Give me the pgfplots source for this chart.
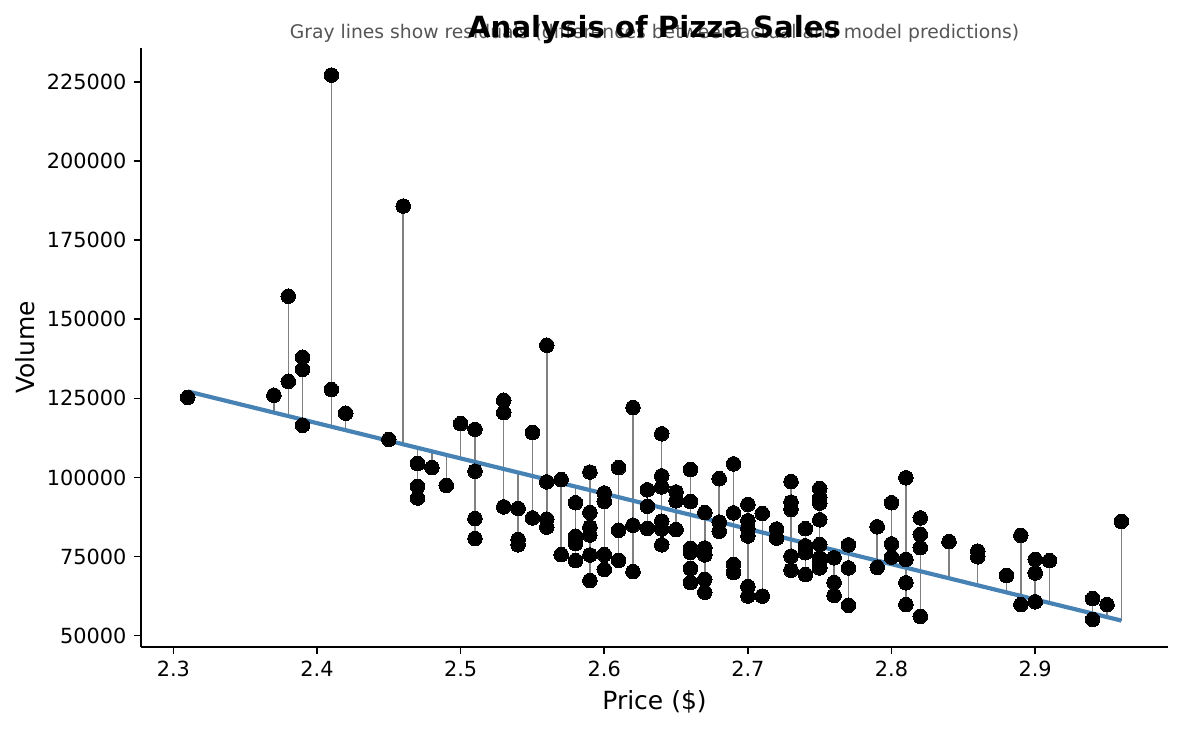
\documentclass[border=0pt]{standalone}
\usepackage{pgfplots}
\pgfplotsset{compat=1.18}
\usepackage{pgfplotstable}
\usepackage{fontspec}
\setmainfont{DejaVu Sans}

\definecolor{steelblue}{HTML}{4682B4}
\definecolor{residgray}{HTML}{808080}
\definecolor{subgray}{HTML}{555555}

% fitted model: volume = a - b * price
\newcommand\fitA{384676}
\newcommand\fitB{111461.5}

\pgfplotstableread{
price volume
2.31 125300
2.37 126000
2.38 157300
2.38 130400
2.39 138000
2.39 134200
2.39 116500
2.41 227200
2.41 127800
2.42 120300
2.45 112000
2.46 185800
2.47 104400
2.47 97200
2.47 93500
2.48 103100
2.49 97500
2.50 117000
2.51 115200
2.51 102000
2.51 87000
2.51 80700
2.53 124400
2.53 120500
2.53 90700
2.54 90200
2.54 80400
2.54 78700
2.55 114200
2.55 87200
2.56 141800
2.56 98600
2.56 86800
2.56 84300
2.57 99300
2.57 75600
2.58 92000
2.58 81400
2.58 79100
2.58 73700
2.59 101700
2.59 88900
2.59 84300
2.59 81800
2.59 75500
2.59 67400
2.60 95100
2.60 92400
2.60 75600
2.60 70900
2.61 103100
2.61 83300
2.61 73800
2.62 122100
2.62 84900
2.62 70200
2.63 96100
2.63 90900
2.63 83900
2.64 113800
2.64 100500
2.64 97000
2.64 86200
2.64 83700
2.64 78700
2.65 95400
2.65 92600
2.65 83500
2.66 102500
2.66 92400
2.66 77600
2.66 76300
2.66 71200
2.66 66800
2.67 88900
2.67 77700
2.67 75500
2.67 67800
2.67 63700
2.68 99600
2.68 85900
2.68 83000
2.69 104300
2.69 88800
2.69 72500
2.69 69900
2.70 91500
2.70 86300
2.70 83800
2.70 81500
2.70 65500
2.70 62500
2.71 88600
2.71 62500
2.72 83700
2.72 80800
2.73 98700
2.73 92200
2.73 89900
2.73 75100
2.73 70700
2.74 83800
2.74 78400
2.74 76200
2.74 69300
2.75 96500
2.75 93600
2.75 91900
2.75 86600
2.75 78800
2.75 74600
2.75 73000
2.75 71400
2.76 74600
2.76 66800
2.76 62700
2.77 78700
2.77 71400
2.77 59600
2.79 84400
2.79 71600
2.80 92000
2.80 79000
2.80 74800
2.81 99900
2.81 74100
2.81 66700
2.81 59800
2.82 87200
2.82 82000
2.82 77800
2.82 56100
2.84 79700
2.86 76700
2.86 74900
2.88 69000
2.89 81700
2.89 59800
2.90 74100
2.90 69800
2.90 60700
2.91 73700
2.94 61700
2.94 55100
2.95 59800
2.96 86100
}\sales

\begin{document}
\begin{tikzpicture}
\useasboundingbox (-67.7pt,-39.8pt) rectangle (499.7pt,310.5pt);
\begin{axis}[
  name=ax,
  at={(0,0)}, anchor=south west,
  scale only axis, width=493pt, height=287.5pt,
  xmin=2.2775, xmax=2.9925, ymin=46450, ymax=235800,
  axis x line=bottom, axis y line=left,
  axis line style={-, line width=0.8pt, black},
  tick align=outside, major tick length=3.5pt,
  tick style={line width=0.8pt, black},
  xtick={2.3,2.4,2.5,2.6,2.7,2.8,2.9},
  ytick={50000,75000,100000,125000,150000,175000,200000,225000},
  scaled x ticks=false, scaled y ticks=false,
  /pgf/number format/assume math mode=true,
  tick label style={font=\fontsize{10}{12}\selectfont},
  xticklabel style={/pgf/number format/.cd, fixed, fixed zerofill, precision=1},
  yticklabel style={/pgf/number format/.cd, fixed, precision=0, 1000 sep={}},
  xlabel={Price (\$)}, ylabel={Volume},
  every axis x label/.style={at={(axis description cs:0.5,-0.105)}, anchor=base,
    font=\fontsize{12}{14}\selectfont},
  every axis y label/.style={at={(axis description cs:-0.113,0.5)}, rotate=90, anchor=center,
    font=\fontsize{12}{14}\selectfont},
  clip=false,
]
% residuals: vertical segments from each observation to the fitted line
\addplot[only marks, mark=none, forget plot,
  error bars/.cd, y dir=both, y explicit, error mark=none,
  error bar style={residgray, line width=0.7pt}]
  table[x=price, y=volume,
    y error plus expr={max(\fitA-\fitB*\thisrow{price}-\thisrow{volume},0)},
    y error minus expr={max(\thisrow{volume}-\fitA+\fitB*\thisrow{price},0)}] {\sales};
% fitted regression line
\addplot[steelblue, line width=2pt, mark=none] coordinates {(2.31,127200) (2.96,54750)};
% observations
\addplot[only marks, mark=*, mark size=3.5pt,
  mark options={fill=black, draw=black, line width=0pt}]
  table[x=price, y=volume] {\sales};
\end{axis}
\node[anchor=base, text=subgray, font=\fontsize{9}{11}\selectfont, yshift=4.4pt]
  at (ax.north) {Gray lines show residuals (differences between actual and model predictions)};
\node[anchor=base, font=\bfseries\fontsize{14}{17}\selectfont, yshift=4.8pt]
  at (ax.north) {Analysis of Pizza Sales};
\end{tikzpicture}
\end{document}
